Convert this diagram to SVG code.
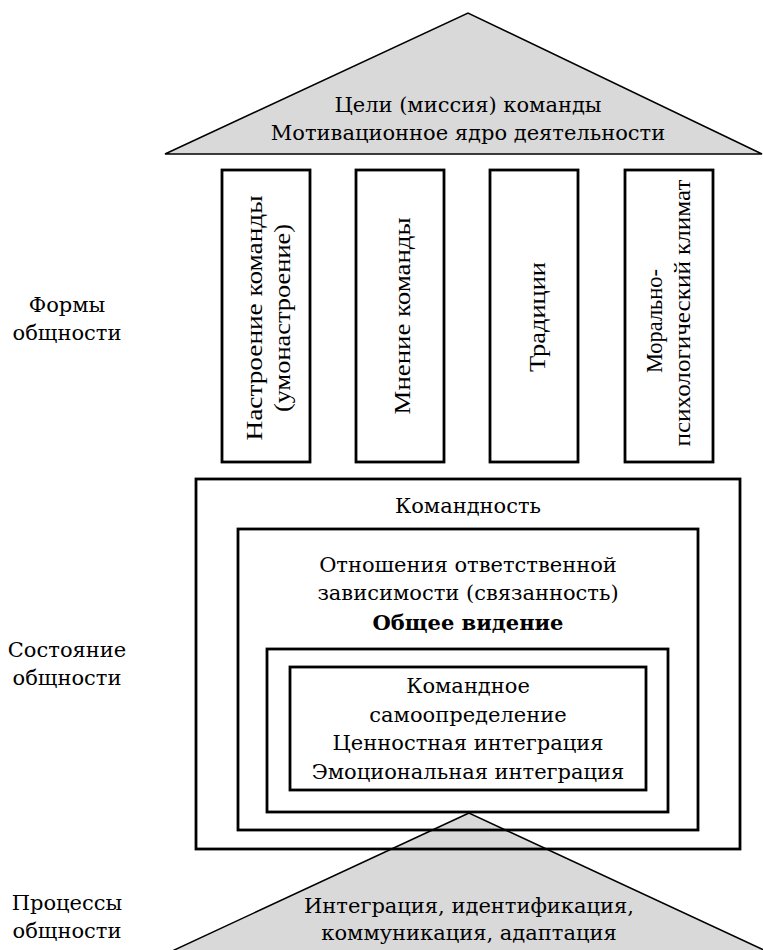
<svg xmlns="http://www.w3.org/2000/svg" width="763" height="950" viewBox="0 0 763 950">
<style>
.t{font-family:"DejaVu Serif","Liberation Serif",serif;font-size:21px;fill:#000;text-anchor:middle}
.b{font-weight:bold}
.v{font-family:"Liberation Serif","Times New Roman",serif;font-size:24px;fill:#000;text-anchor:middle}
.tri{fill:#d9d9d9;stroke:#000;stroke-width:1.5;stroke-linejoin:miter}
.box{fill:none;stroke:#000;stroke-width:2.8}
.pil{fill:#fff;stroke:#000;stroke-width:2.8}
</style>
<rect width="763" height="950" fill="#fff"/>
<g id="labels">
<text class="t" x="67" y="312">Формы</text>
<text class="t" x="67" y="340">общности</text>
<text class="t" x="67" y="657">Состояние</text>
<text class="t" x="67" y="685">общности</text>
<text class="t" x="67" y="910">Процессы</text>
<text class="t" x="67" y="938">общности</text>
</g>
<g id="goals">
<polygon class="tri" points="165,154 468,13 762,154"/>
<text class="t" x="468" y="112">Цели (миссия) команды</text>
<text class="t" x="468" y="140">Мотивационное ядро деятельности</text>
</g>
<g id="pillar-mood">
<rect class="pil" x="222" y="170" width="88" height="292"/>
<text class="v" transform="translate(262,318) rotate(-90)" textLength="245" lengthAdjust="spacingAndGlyphs">Настроение команды</text>
<text class="v" transform="translate(290,318) rotate(-90)" textLength="188" lengthAdjust="spacingAndGlyphs">(умонастроение)</text>
</g>
<g id="pillar-opinion">
<rect class="pil" x="356" y="170" width="88" height="292"/>
<text class="v" transform="translate(410,316) rotate(-90)" textLength="197" lengthAdjust="spacingAndGlyphs">Мнение команды</text>
</g>
<g id="pillar-traditions">
<rect class="pil" x="490" y="170" width="88" height="292"/>
<text class="v" transform="translate(545,317) rotate(-90)" textLength="110" lengthAdjust="spacingAndGlyphs">Традиции</text>
</g>
<g id="pillar-climate">
<rect class="pil" x="625" y="170" width="88" height="292"/>
<text class="v" transform="translate(662,321) rotate(-90)" textLength="104" lengthAdjust="spacingAndGlyphs">Морально-</text>
<text class="v" transform="translate(690,313) rotate(-90)" textLength="267" lengthAdjust="spacingAndGlyphs">психологический климат</text>
</g>
<g id="processes">
<polygon class="tri" points="469,813 170,952 768,952"/>
<text class="t" x="469" y="913">Интеграция, идентификация,</text>
<text class="t" x="469" y="940">коммуникация, адаптация</text>
</g>
<g id="teamness">
<rect class="box" x="196" y="479" width="544" height="370"/>
<text class="t" x="468" y="513">Командность</text>
</g>
<g id="shared-vision">
<rect class="box" x="238" y="529" width="460" height="301"/>
<text class="t" x="468" y="572">Отношения ответственной</text>
<text class="t" x="468" y="600">зависимости (связанность)</text>
<text class="t b" x="468" y="630">Общее видение</text>
</g>
<g id="ring">
<rect class="box" x="267" y="649" width="401" height="163"/>
</g>
<g id="core">
<rect class="box" x="290" y="667" width="356" height="123"/>
<text class="t" x="468" y="693">Командное</text>
<text class="t" x="468" y="722">самоопределение</text>
<text class="t" x="468" y="750">Ценностная интеграция</text>
<text class="t" x="468" y="779">Эмоциональная интеграция</text>
</g>
<g id="connectors"/>
</svg>
